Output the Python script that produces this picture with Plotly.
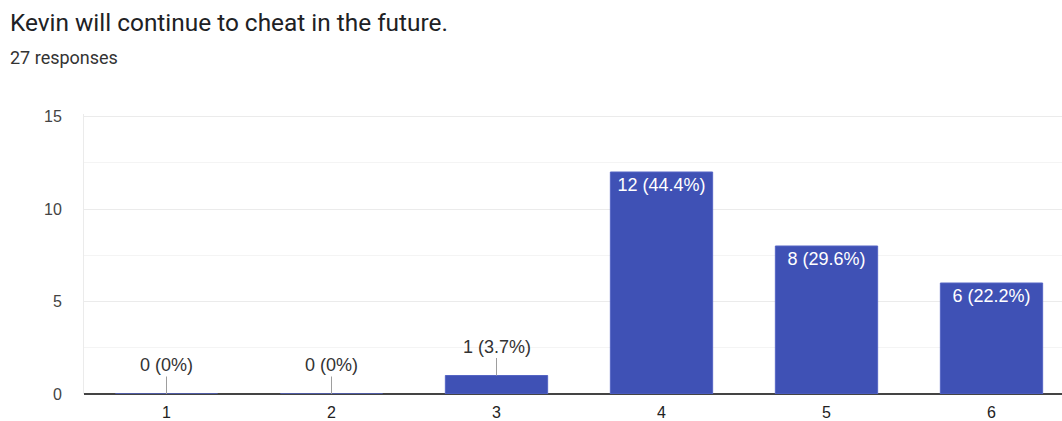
import plotly.graph_objects as go

title = "Kevin will continue to cheat in the future."
subtitle = "27 responses"
categories = [1, 2, 3, 4, 5, 6]
counts = [0, 0, 1, 12, 8, 6]
total = sum(counts)
y_ticks = [0, 5, 10, 15]

def pct_label(v):
    p = round(100.0 * v / total, 1)
    s = f"{p:.1f}".rstrip("0").rstrip(".")
    return f"{v} ({s}%)"

labels = [pct_label(v) for v in counts]
inside = [v >= 3 for v in counts]

W, H = 1062, 421
ML, MT, MB = 84, 114, 27
plot_h = H - MT - MB
plot_w = W - ML
px_per_unit = 18.5
y_top = plot_h / px_per_unit

fig = go.Figure()
fig.add_trace(go.Bar(
    x=categories,
    y=counts,
    width=0.62,
    marker=dict(color="#3f51b5", line=dict(color="#5565c4", width=1)),
    text=[l if ins else "" for l, ins in zip(labels, inside)],
    textposition="inside",
    insidetextanchor="end",
    constraintext="none",
    textfont=dict(family="Liberation Sans, Arial", size=18, color="white"),
    hoverinfo="skip",
))

anns = []
for c, v, l, ins in zip(categories, counts, labels, inside):
    if not ins:
        anns.append(go.layout.Annotation(
            x=c, y=v, xref="x", yref="y",
            text=l, showarrow=True, arrowhead=0, arrowwidth=1,
            arrowcolor="#9e9e9e", ax=0, ay=-29, standoff=0,
            font=dict(family="Liberation Sans, Arial", size=18, color="#333333"),
        ))

def px_to_paper(px_x, px_y):
    return ((px_x - ML) / plot_w, (H - MB - px_y) / plot_h)

tx, ty = px_to_paper(8, 22)
sx, sy = px_to_paper(8, 57)
anns.append(go.layout.Annotation(
    x=tx, y=ty, xref="paper", yref="paper", xanchor="left", yanchor="middle",
    text=title, showarrow=False,
    font=dict(family="Roboto, Open Sans", size=24.4, color="#202124")))
anns.append(go.layout.Annotation(
    x=sx, y=sy, xref="paper", yref="paper", xanchor="left", yanchor="middle",
    text=subtitle, showarrow=False,
    font=dict(family="Roboto, Open Sans", size=18, color="#333333")))

fig.update_layout(
    width=W, height=H,
    margin=dict(l=ML, r=0, t=MT, b=MB, pad=0),
    paper_bgcolor="white", plot_bgcolor="white",
    showlegend=False,
    annotations=anns,
    xaxis=dict(
        range=[0.5, 0.5 + plot_w / 165.0],
        tickmode="array", tickvals=categories, ticktext=[str(c) for c in categories],
        showgrid=False, zeroline=False, showline=False,
        ticks="", ticklabelstandoff=7, automargin=False,
        tickfont=dict(family="Liberation Sans, Arial", size=16, color="#222222"),
    ),
    yaxis=dict(
        range=[0, y_top],
        tickmode="array", tickvals=y_ticks,
        showgrid=True, gridcolor="#ebebeb", gridwidth=1,
        zeroline=True, zerolinecolor="#444444", zerolinewidth=2,
        showline=True, linecolor="#ebebeb", linewidth=1,
        ticks="", ticklabelstandoff=18, automargin=False,
        tickfont=dict(family="Liberation Sans, Arial", size=16, color="#444444"),
        minor=dict(dtick=2.5, tick0=0, showgrid=True, gridcolor="#f4f4f4", gridwidth=1),
    ),
)

fig.write_html(
    "out.html",
    config={"displayModeBar": False},
    post_script="document.body.style.margin='0';document.body.style.overflow='hidden';",
)
